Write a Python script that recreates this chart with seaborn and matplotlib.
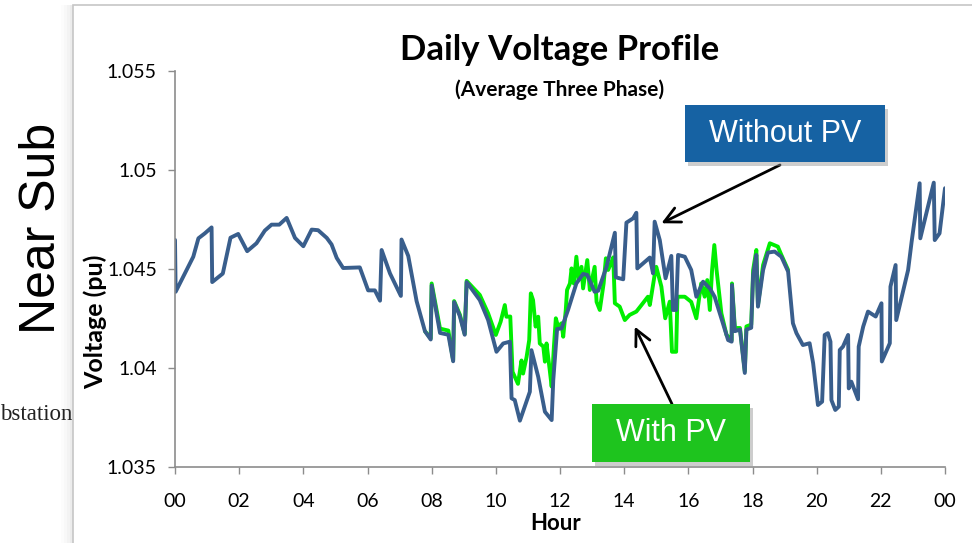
import matplotlib
matplotlib.use('Agg')
import matplotlib.pyplot as plt
from matplotlib.patches import Rectangle
import pandas as pd
import seaborn as sns

# Voltage without PV (blue line), hour of day vs per-unit voltage
hours_nopv = [0.00, 0.02, 0.31, 0.57, 0.73, 0.93, 1.14, 1.16, 1.49, 1.73,
              1.97, 2.25, 2.54, 2.80, 3.01, 3.25, 3.48, 3.74, 4.00, 4.26,
              4.46, 4.73, 4.88, 5.04, 5.24, 5.76, 6.02, 6.23, 6.39, 6.44,
              6.70, 7.04, 7.06, 7.27, 7.53, 7.79, 7.97, 8.00, 8.26, 8.52,
              8.67, 8.70, 8.88, 9.03, 9.09, 9.50, 9.76, 10.02, 10.23, 10.44,
              10.49, 10.59, 10.75, 11.06, 11.11, 11.32, 11.53, 11.74, 11.79, 11.91,
              12.05, 12.25, 12.51, 12.72, 12.85, 13.08, 13.19, 13.45, 13.71, 13.74,
              13.97, 14.07, 14.28, 14.38, 14.41, 14.80, 14.90, 14.95, 15.11, 15.29,
              15.47, 15.52, 15.62, 15.68, 15.89, 16.09, 16.25, 16.46, 16.67, 16.82,
              17.03, 17.24, 17.35, 17.36, 17.45, 17.61, 17.76, 17.81, 17.96, 18.02,
              18.12, 18.17, 18.33, 18.48, 18.69, 18.90, 19.11, 19.26, 19.37, 19.57,
              19.78, 19.89, 20.04, 20.17, 20.25, 20.35, 20.43, 20.46, 20.58, 20.69,
              20.72, 20.82, 20.98, 21.00, 21.08, 21.29, 21.31, 21.45, 21.60, 21.84,
              22.02, 22.03, 22.28, 22.30, 22.46, 22.48, 22.85, 22.96, 23.21, 23.23,
              23.65, 23.68, 23.83, 24.00]
volts_nopv = [1.04647, 1.04385, 1.04478, 1.04562, 1.04655, 1.04680, 1.04710, 1.04434, 1.04477, 1.04658,
              1.04677, 1.04590, 1.04630, 1.04694, 1.04724, 1.04724, 1.04758, 1.04657, 1.04615, 1.04699,
              1.04696, 1.04657, 1.04624, 1.04556, 1.04505, 1.04508, 1.04392, 1.04392, 1.04340, 1.04596,
              1.04478, 1.04364, 1.04649, 1.04566, 1.04338, 1.04186, 1.04144, 1.04417, 1.04177, 1.04168,
              1.04034, 1.04333, 1.04261, 1.04168, 1.04434, 1.04343, 1.04242, 1.04082, 1.04124, 1.04133,
              1.03847, 1.03838, 1.03734, 1.03880, 1.04090, 1.03956, 1.03779, 1.03737, 1.03939, 1.04197,
              1.04200, 1.04293, 1.04427, 1.04475, 1.04470, 1.04385, 1.04390, 1.04511, 1.04683, 1.04458,
              1.04448, 1.04734, 1.04756, 1.04784, 1.04503, 1.04558, 1.04478, 1.04739, 1.04646, 1.04453,
              1.04566, 1.04293, 1.04293, 1.04571, 1.04562, 1.04495, 1.04360, 1.04436, 1.04402, 1.04360,
              1.04251, 1.04141, 1.04133, 1.04419, 1.04186, 1.04194, 1.03975, 1.04194, 1.04203, 1.04470,
              1.04571, 1.04310, 1.04495, 1.04583, 1.04588, 1.04562, 1.04487, 1.04226, 1.04176, 1.04116,
              1.04125, 1.04024, 1.03813, 1.03830, 1.04167, 1.04176, 1.04133, 1.03838, 1.03788, 1.03805,
              1.04091, 1.04108, 1.04167, 1.03897, 1.03931, 1.03842, 1.04108, 1.04209, 1.04285, 1.04260,
              1.04327, 1.04033, 1.04125, 1.04411, 1.04520, 1.04242, 1.04495, 1.04638, 1.04933, 1.04655,
              1.04936, 1.04646, 1.04680, 1.04908]

# Voltage with PV (green line); outside these hours it sits under the blue line
hours_pv = [7.79, 7.97, 8.00, 8.26, 8.52, 8.67, 8.70, 8.88, 9.03, 9.09,
            9.50, 9.76, 10.00, 10.15, 10.28, 10.33, 10.45, 10.52, 10.69, 10.80,
            10.85, 10.96, 11.04, 11.09, 11.16, 11.24, 11.32, 11.37, 11.48, 11.53,
            11.58, 11.68, 11.74, 11.81, 11.87, 11.94, 12.05, 12.10, 12.18, 12.22,
            12.31, 12.36, 12.43, 12.51, 12.58, 12.67, 12.72, 12.85, 12.93, 13.08,
            13.14, 13.24, 13.36, 13.43, 13.50, 13.61, 13.66, 13.71, 13.86, 14.02,
            14.17, 14.38, 14.54, 14.74, 14.80, 14.95, 15.00, 15.16, 15.28, 15.42,
            15.49, 15.62, 15.66, 15.89, 16.09, 16.25, 16.40, 16.51, 16.59, 16.67,
            16.74, 16.81, 16.88, 17.03, 17.19, 17.35, 17.36, 17.45, 17.61, 17.76,
            17.81, 17.96, 18.02, 18.12, 18.17, 18.33, 18.54, 18.79, 18.90, 19.11]
volts_pv = [1.04186, 1.04150, 1.04427, 1.04199, 1.04189, 1.04039, 1.04338, 1.04269, 1.04172, 1.04440,
            1.04369, 1.04276, 1.04167, 1.04234, 1.04318, 1.04259, 1.04260, 1.03981, 1.03920, 1.04038,
            1.03972, 1.04057, 1.04141, 1.04377, 1.04343, 1.04209, 1.04259, 1.04124, 1.04108, 1.04032,
            1.04124, 1.03990, 1.03906, 1.04108, 1.04251, 1.04209, 1.04226, 1.04158, 1.04293, 1.04394,
            1.04427, 1.04503, 1.04427, 1.04562, 1.04444, 1.04511, 1.04402, 1.04545, 1.04394, 1.04511,
            1.04334, 1.04293, 1.04427, 1.04554, 1.04495, 1.04537, 1.04559, 1.04327, 1.04310, 1.04242,
            1.04268, 1.04285, 1.04318, 1.04360, 1.04318, 1.04470, 1.04511, 1.04411, 1.04251, 1.04335,
            1.04082, 1.04082, 1.04360, 1.04360, 1.04334, 1.04251, 1.04427, 1.04360, 1.04444, 1.04293,
            1.04495, 1.04621, 1.04495, 1.04276, 1.04167, 1.04141, 1.04427, 1.04202, 1.04202, 1.03984,
            1.04210, 1.04219, 1.04495, 1.04596, 1.04318, 1.04520, 1.04630, 1.04613, 1.04571, 1.04495]

x_ticks = list(range(0, 25, 2))
x_labels = ['00', '02', '04', '06', '08', '10', '12', '14', '16', '18', '20', '22', '00']
y_ticks = [1.035, 1.04, 1.045, 1.05, 1.055]
y_labels = ['1.035', '1.04', '1.045', '1.05', '1.055']

df_nopv = pd.DataFrame({'Hour': hours_nopv, 'Voltage': volts_nopv})
df_pv = pd.DataFrame({'Hour': hours_pv, 'Voltage': volts_pv})

sns.set_style('ticks')
plt.rcParams['font.family'] = ['Lato', 'DejaVu Sans']
plt.rcParams['text.color'] = 'black'

W, H = 972, 543
fig = plt.figure(figsize=(9.72, 5.43), dpi=100)
ax = fig.add_axes([175 / W, 1 - 467 / H, 770 / W, 396 / H])

# slide panel behind the chart, with a soft shadow on its left
for i, a in enumerate([0.05, 0.04, 0.03, 0.02]):
    fig.add_artist(Rectangle(((73 - 3 * (i + 1)) / W, -0.05), 1, 1.05 - 5 / H,
                             transform=fig.transFigure, facecolor='#808080',
                             edgecolor='none', alpha=a, zorder=-1.5))
fig.add_artist(Rectangle((73 / W, -0.05), 1, 1.05 - 5 / H, transform=fig.transFigure,
                         facecolor='white', edgecolor='#c6c6c6', lw=1.2, zorder=-1))
fig.text(0, 1 - 415 / H, 'bstation', family='Liberation Serif', fontsize=16.5,
         ha='left', va='center', color='#222222', zorder=-2)
fig.text(42 / W, 1 - 228 / H, 'Near Sub', family='Liberation Sans', fontsize=36,
         rotation=90, ha='center', va='center', color='black')

sns.lineplot(data=df_pv, x='Hour', y='Voltage', ax=ax, color='#00ee00', lw=2.8,
             estimator=None, sort=False, legend=False)
sns.lineplot(data=df_nopv, x='Hour', y='Voltage', ax=ax, color='#395e8c', lw=2.8,
             estimator=None, sort=False, legend=False)

ax.set_xlim(0, 24)
ax.set_ylim(1.035, 1.055)
ax.set_xticks(x_ticks)
ax.set_xticklabels(x_labels)
ax.set_yticks(y_ticks)
ax.set_yticklabels(y_labels)
ax.set_xlabel('')
ax.set_ylabel('')
sns.despine(ax=ax)
for s in ['left', 'bottom']:
    ax.spines[s].set_color('#8c8c8c')
    ax.spines[s].set_linewidth(1.2)
ax.tick_params(axis='both', length=5, width=1, color='#8c8c8c', labelsize=14,
               labelcolor='black', pad=8)
ax.tick_params(axis='x', pad=14)

fig.text(560 / W, 1 - 50 / H, 'Daily Voltage Profile', fontsize=25, fontweight='bold',
         ha='center', va='center', color='black')
fig.text(560 / W, 1 - 90 / H, '(Average Three Phase)', fontsize=15, fontweight='bold',
         ha='center', va='center', color='black')
fig.text(556 / W, 1 - 524 / H, 'Hour', fontsize=16, fontweight='bold', ha='center',
         va='center', color='black')
fig.text(95 / W, 1 - 322 / H, 'Voltage (pu)', fontsize=18, color='black',
         fontweight='bold', rotation=90, ha='center', va='center')

# callout boxes
for (x0, y0, w, h, fc, label) in [(685, 105, 200, 57, '#1662a3', 'Without PV'),
                                   (592, 404, 158, 58, '#1ec41e', 'With PV')]:
    fig.add_artist(Rectangle(((x0 + 3) / W, 1 - (y0 + h + 4) / H), w / W, h / H,
                             transform=fig.transFigure, facecolor='#909090',
                             edgecolor='none', alpha=0.45, zorder=4))
    fig.add_artist(Rectangle((x0 / W, 1 - (y0 + h) / H), w / W, h / H,
                             transform=fig.transFigure, facecolor=fc,
                             edgecolor='none', zorder=5))
    fig.text((x0 + w / 2) / W, 1 - (y0 + h / 2) / H, label, family='Liberation Sans',
             fontsize=22, color='white', ha='center', va='center', zorder=6)

ax.annotate('', xy=(15.16, 1.04731), xycoords='data',
            xytext=(780, H - 165), textcoords='figure pixels',
            arrowprops=dict(arrowstyle='->', color='black', lw=2,
                            mutation_scale=28, shrinkA=0, shrinkB=0))
ax.annotate('', xy=(14.33, 1.04209), xycoords='data',
            xytext=(672, H - 404), textcoords='figure pixels',
            arrowprops=dict(arrowstyle='->', color='black', lw=2,
                            mutation_scale=28, shrinkA=0, shrinkB=0))

fig.savefig('out.png', dpi=100)
